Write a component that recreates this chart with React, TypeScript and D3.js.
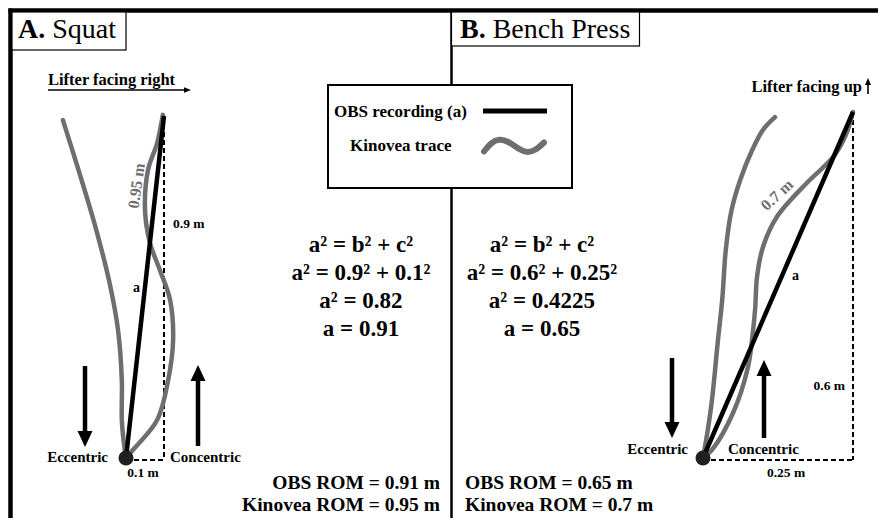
import React from 'react';
import * as d3 from 'd3';

// Trace data, in metres from the bar's lowest point (x: horizontal, y: vertical)
const squatBackTrace: [number, number][] = [
  [0, 0], [-0.005, 0.034], [-0.011, 0.1], [-0.011, 0.205], [-0.021, 0.337],
  [-0.042, 0.455], [-0.076, 0.592], [-0.121, 0.745], [-0.166, 0.889],
];
const squatKinoveaTrace: [number, number][] = [
  [0, 0], [0.018, 0.021], [0.082, 0.1], [0.111, 0.205], [0.124, 0.311],
  [0.116, 0.416], [0.089, 0.495], [0.063, 0.566], [0.05, 0.653],
  [0.058, 0.758], [0.082, 0.829], [0.097, 0.903],
];
const benchBackTrace: [number, number][] = [
  [0, 0], [0.008, 0.049], [0.015, 0.101], [0.025, 0.205], [0.032, 0.274],
  [0.038, 0.361], [0.047, 0.427], [0.062, 0.482], [0.082, 0.534],
  [0.1, 0.569], [0.12, 0.591],
];
const benchKinoveaTrace: [number, number][] = [
  [0, 0], [0.015, 0.014], [0.05, 0.078], [0.075, 0.158], [0.083, 0.217],
  [0.087, 0.26], [0.09, 0.314], [0.1, 0.366], [0.123, 0.418],
  [0.173, 0.477], [0.217, 0.522], [0.238, 0.56], [0.25, 0.6],
];

// right-angle legs: [horizontal c, vertical b]
const squatLegs = [0.1, 0.9];
const benchLegs = [0.25, 0.6];

const squatEquations = ['a² = b² + c²', 'a² = 0.9² + 0.1²', 'a² = 0.82', 'a = 0.91'];
const benchEquations = ['a² = b² + c²', 'a² = 0.6² + 0.25²', 'a² = 0.4225', 'a = 0.65'];
const squatRom = ['OBS ROM = 0.91 m', 'Kinovea ROM = 0.95 m'];
const benchRom = ['OBS ROM = 0.65 m', 'Kinovea ROM = 0.7 m'];
const legendItems = ['OBS recording (a)', 'Kinovea trace'];
// legend wave sample (unit box)
const waveSample: [number, number][] = [
  [0, 0.9], [0.12, 0.3], [0.25, 0.05], [0.4, 0.2], [0.58, 0.75],
  [0.72, 1], [0.87, 0.8], [1, 0.3],
];

const GRAY = '#6d6e71';
const FONT = 'Liberation Serif';

const squatX = d3.scaleLinear().domain([0, squatLegs[0]]).range([126, 164]);
const squatY = d3.scaleLinear().domain([0, squatLegs[1]]).range([458, 116]);
const benchX = d3.scaleLinear().domain([0, benchLegs[0]]).range([703, 853]);
const benchY = d3.scaleLinear().domain([0, benchLegs[1]]).range([458, 112]);

function Arrow({ x1, y1, x2, y2, w, len, hw }: { x1: number; y1: number; x2: number; y2: number; w: number; len: number; hw: number }) {
  const dx = x2 - x1, dy = y2 - y1;
  const d = Math.hypot(dx, dy);
  const ux = dx / d, uy = dy / d;
  const bx = x2 - ux * len, by = y2 - uy * len;
  const pts = [
    [x2, y2],
    [bx - uy * hw, by + ux * hw],
    [bx + uy * hw, by - ux * hw],
  ];
  return (
    <g>
      <line x1={x1} y1={y1} x2={bx + ux * 1} y2={by + uy * 1} stroke="#000" strokeWidth={w} />
      <polygon points={pts.map(p => p.join(',')).join(' ')} fill="#000" />
    </g>
  );
}

function Panel({ xs, ys, back, kinovea, legs }: {
  xs: d3.ScaleLinear<number, number>; ys: d3.ScaleLinear<number, number>;
  back: [number, number][]; kinovea: [number, number][]; legs: number[];
}) {
  const line = d3.line<[number, number]>()
    .x(d => xs(d[0]))
    .y(d => ys(d[1]))
    .curve(d3.curveCatmullRom.alpha(0.5));
  const [c, b] = legs;
  return (
    <g>
      <line x1={xs(c)} y1={ys(b)} x2={xs(c)} y2={ys(0) + 2} stroke="#000" strokeWidth={2} strokeDasharray="5,3" />
      <line x1={xs(0)} y1={ys(0) + 2} x2={xs(c)} y2={ys(0) + 2} stroke="#000" strokeWidth={2} strokeDasharray="5,3" />
      <path d={line(back) || ''} fill="none" stroke={GRAY} strokeWidth={4.5} strokeLinecap="round" />
      <path d={line(kinovea) || ''} fill="none" stroke={GRAY} strokeWidth={4.5} strokeLinecap="round" />
      <line x1={xs(0)} y1={ys(0)} x2={xs(c)} y2={ys(b)} stroke="#000" strokeWidth={4.5} />
      <circle cx={xs(0)} cy={ys(0)} r={7.5} fill="#231f20" />
    </g>
  );
}

export default function App() {
  const wx = d3.scaleLinear().domain([0, 1]).range([484, 544]);
  const wy = d3.scaleLinear().domain([0, 1]).range([138, 153]);
  const wave = d3.line<[number, number]>().x(d => wx(d[0])).y(d => wy(d[1])).curve(d3.curveBasis);
  const lbl = { fontFamily: FONT, fontWeight: 700 } as const;

  return (
    <svg width={878} height={518} style={{ position: 'absolute', left: 0, top: 0, background: '#fff' }}>
      <rect width={878} height={518} fill="#fff" />
      {/* frame */}
      <line x1={8.5} y1={10.5} x2={878} y2={10.5} stroke="#000" strokeWidth={4.5} />
      <line x1={10.5} y1={8.5} x2={10.5} y2={518} stroke="#000" strokeWidth={4.5} />
      <line x1={451.5} y1={12} x2={451.5} y2={518} stroke="#000" strokeWidth={2.5} />

      {/* title boxes */}
      <rect x={12} y={12} width={114} height={38} fill="#fff" stroke="#000" strokeWidth={1.2} />
      <text x={18} y={38} fontFamily={FONT} fontSize={28}>
        <tspan fontWeight={700}>A.</tspan> Squat
      </text>
      <rect x={451.5} y={12} width={188} height={34} fill="#fff" stroke="#000" strokeWidth={1.2} />
      <text x={460} y={38} fontFamily={FONT} fontSize={28}>
        <tspan fontWeight={700}>B.</tspan> Bench Press
      </text>

      {/* legend */}
      <rect x={328} y={85} width={244} height={103} fill="#fff" stroke="#000" strokeWidth={2} />
      <text x={334} y={117} {...lbl} fontSize={17}>{legendItems[0]}</text>
      <line x1={483} y1={111} x2={547} y2={111} stroke="#000" strokeWidth={5} />
      <text x={350} y={151} {...lbl} fontSize={17}>{legendItems[1]}</text>
      <path d={wave(waveSample) || ''} fill="none" stroke={GRAY} strokeWidth={6} strokeLinecap="round" />

      {/* squat panel */}
      <text x={48} y={85} {...lbl} fontSize={16.5}>Lifter facing right</text>
      <Arrow x1={48} y1={90} x2={191} y2={90} w={1.3} len={7} hw={2.8} />
      <Panel xs={squatX} ys={squatY} back={squatBackTrace} kinovea={squatKinoveaTrace} legs={squatLegs} />
      <text x={173} y={228} {...lbl} fontSize={13.5}>{`${squatLegs[1]} m`}</text>
      <text x={143} y={477} {...lbl} fontSize={13.5} textAnchor="middle">{`${squatLegs[0]} m`}</text>
      <text x={133} y={292} {...lbl} fontSize={14}>a</text>
      <text transform="translate(138,186) rotate(-82)" {...lbl} fontSize={16} fill={GRAY} textAnchor="middle" dominantBaseline="middle">0.95 m</text>
      <Arrow x1={85} y1={366} x2={85} y2={447} w={4.5} len={16} hw={7.5} />
      <Arrow x1={198} y1={446} x2={198} y2={365} w={4.5} len={16} hw={7.5} />
      <text x={108} y={462} {...lbl} fontSize={15} textAnchor="end">Eccentric</text>
      <text x={170} y={462} {...lbl} fontSize={15}>Concentric</text>
      {squatEquations.map((t, i) => (
        <text key={t} x={361} y={252 + i * 28} {...lbl} fontSize={23} textAnchor="middle">{t}</text>
      ))}
      {squatRom.map((t, i) => (
        <text key={t} x={440} y={489 + i * 22} {...lbl} fontSize={19.5} textAnchor="end">{t}</text>
      ))}

      {/* bench panel */}
      <text x={862} y={92} {...lbl} fontSize={16.5} textAnchor="end">Lifter facing up</text>
      <Arrow x1={868} y1={94} x2={868} y2={78} w={1.6} len={7} hw={3} />
      <Panel xs={benchX} ys={benchY} back={benchBackTrace} kinovea={benchKinoveaTrace} legs={benchLegs} />
      <text x={845} y={390} {...lbl} fontSize={13.5} textAnchor="end">{`${benchLegs[1]} m`}</text>
      <text x={786} y={477} {...lbl} fontSize={13.5} textAnchor="middle">{`${benchLegs[0]} m`}</text>
      <text x={792} y={280} {...lbl} fontSize={14}>a</text>
      <text transform="translate(778,196) rotate(-43)" {...lbl} fontSize={16} fill={GRAY} textAnchor="middle" dominantBaseline="middle">0.7 m</text>
      <Arrow x1={672} y1={358} x2={672} y2={438} w={4.5} len={16} hw={7.5} />
      <Arrow x1={764} y1={438} x2={764} y2={360} w={4.5} len={16} hw={7.5} />
      <text x={688} y={454} {...lbl} fontSize={15} textAnchor="end">Eccentric</text>
      <text x={728} y={454} {...lbl} fontSize={15}>Concentric</text>
      {benchEquations.map((t, i) => (
        <text key={t} x={542} y={252 + i * 28} {...lbl} fontSize={23} textAnchor="middle">{t}</text>
      ))}
      {benchRom.map((t, i) => (
        <text key={t} x={465} y={489 + i * 22} {...lbl} fontSize={19.5}>{t}</text>
      ))}
    </svg>
  );
}
